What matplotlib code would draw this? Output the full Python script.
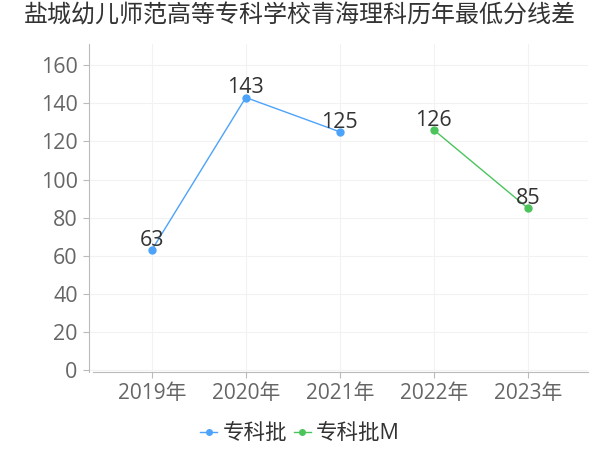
import matplotlib
matplotlib.use('Agg')
import matplotlib.pyplot as plt

plt.rcParams['font.family'] = ['Open Sans', 'Noto Sans CJK SC', 'DejaVu Sans']

title = '盐城幼儿师范高等专科学校青海理科历年最低分线差'
years = ['2019年', '2020年', '2021年', '2022年', '2023年']

# 专科批: 2019-2021, 专科批M: 2022-2023
zk_x = [0, 1, 2]
zk_y = [63, 143, 125]
zkm_x = [3, 4]
zkm_y = [126, 85]

blue = '#4DA3FA'
green = '#4CC45C'


def main():
    fig = plt.figure(figsize=(6, 4.5), dpi=100)
    ax = fig.add_axes([0.148, 0.173, 0.832, 0.729])

    ax.plot(zk_x, zk_y, color=blue, lw=1, marker='o', ms=5, label='专科批')
    ax.plot(zkm_x, zkm_y, color=green, lw=1, marker='o', ms=5, label='专科批M')

    for xs, ys in [(zk_x, zk_y), (zkm_x, zkm_y)]:
        for x, y in zip(xs, ys):
            ax.annotate(str(y), (x, y), xytext=(0, 3), textcoords='offset points',
                        ha='center', va='baseline', fontsize=15.5, color='#333333')

    ax.set_xlim(-0.67, 4.64)
    ax.set_ylim(-1, 171)
    ax.set_xticks(range(len(years)))
    ax.set_xticklabels(years)
    ax.set_yticks(range(0, 161, 20))
    ax.tick_params(axis='x', labelsize=15, colors='#666666', length=4, color='#bbbbbb', pad=4)
    ax.tick_params(axis='y', labelsize=15.5, colors='#666666', length=4, color='#bbbbbb', pad=4)
    ax.grid(True, color='#f2f2f2', lw=0.8)
    ax.set_axisbelow(True)
    for s in ['top', 'right']:
        ax.spines[s].set_visible(False)
    ax.spines['left'].set_color('#bbbbbb')
    ax.spines['bottom'].set_color('#bbbbbb')
    ax.spines['bottom'].set_bounds(-0.63, 4.64)

    fig.suptitle(title, fontsize=17.3, color='#333333', y=0.99)
    fig.legend(loc='lower center', bbox_to_anchor=(0.5, -0.03), ncol=2, frameon=False,
               fontsize=15.5, handlelength=0.8, handletextpad=0.25, columnspacing=0.3,
               labelcolor='#333333', markerscale=0.8)

    fig.savefig('out.png', dpi=100)


if __name__ == "__main__":
    main()
